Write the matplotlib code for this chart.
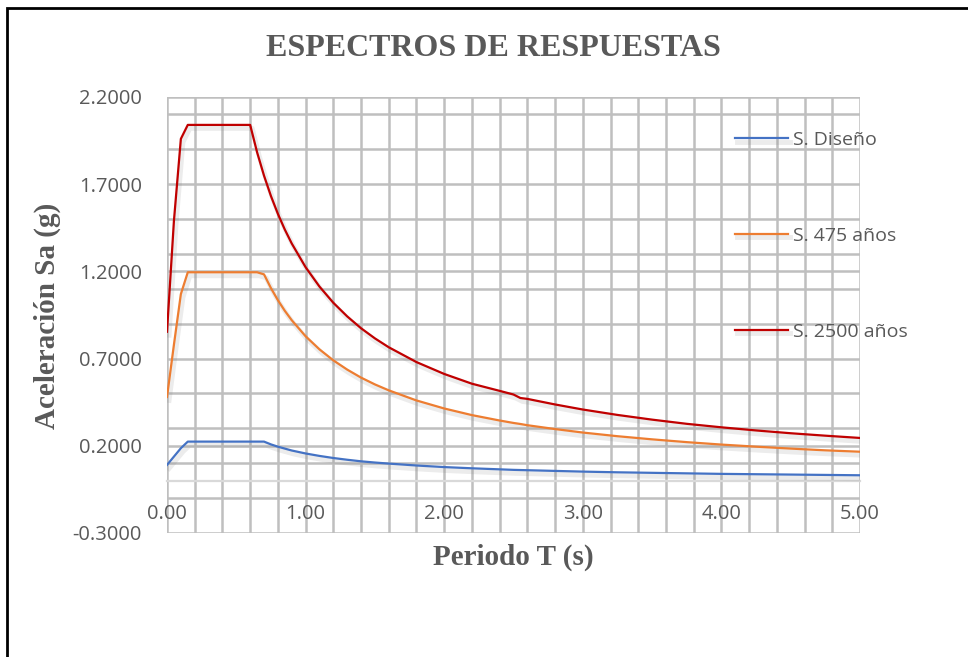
import numpy as np
import matplotlib
matplotlib.use("Agg")
import matplotlib.pyplot as plt
import matplotlib.patheffects as pe
from matplotlib.ticker import FixedLocator, FormatStrFormatter
from matplotlib.patches import Rectangle

# periods (s)
periodo = [0.00, 0.05, 0.10, 0.15, 0.20, 0.30, 0.40, 0.50, 0.60, 0.65,
           0.70, 0.75, 0.80, 0.85, 0.90, 1.00, 1.10, 1.20, 1.30, 1.40,
           1.50, 1.60, 1.80, 2.00, 2.20, 2.40, 2.50, 2.55, 2.60, 2.80,
           3.00, 3.25, 3.50, 3.75, 4.00, 4.25, 4.50, 4.75, 5.00]

# spectral acceleration Sa (g)
sa_diseno = [0.090, 0.138, 0.186, 0.224, 0.224, 0.224, 0.224, 0.224, 0.224, 0.224,
             0.224, 0.208, 0.195, 0.184, 0.173, 0.156, 0.142, 0.130, 0.120, 0.111,
             0.104, 0.098, 0.087, 0.078, 0.071, 0.065, 0.062, 0.061, 0.060, 0.056,
             0.052, 0.048, 0.045, 0.042, 0.039, 0.037, 0.035, 0.033, 0.031]

sa_475 = [0.480, 0.780, 1.070, 1.195, 1.195, 1.195, 1.195, 1.195, 1.195, 1.195,
          1.183, 1.104, 1.035, 0.974, 0.920, 0.828, 0.753, 0.690, 0.637, 0.591,
          0.552, 0.518, 0.460, 0.414, 0.376, 0.345, 0.331, 0.325, 0.318, 0.296,
          0.276, 0.255, 0.237, 0.221, 0.207, 0.195, 0.184, 0.174, 0.166]

sa_2500 = [0.854, 1.490, 1.960, 2.040, 2.040, 2.040, 2.040, 2.040, 2.040, 1.883,
           1.749, 1.632, 1.530, 1.440, 1.360, 1.224, 1.113, 1.020, 0.942, 0.874,
           0.816, 0.765, 0.680, 0.612, 0.556, 0.515, 0.494, 0.474, 0.469, 0.437,
           0.408, 0.377, 0.350, 0.326, 0.306, 0.288, 0.272, 0.258, 0.245]

series = [("S. Diseño", sa_diseno, "#4472C4"),
          ("S. 475 años", sa_475, "#ED7D31"),
          ("S. 2500 años", sa_2500, "#C00000")]

txt = "#595959"
grid_col = "#BFBFBF"

fig = plt.figure(figsize=(9.68, 6.57), dpi=100)
ax = fig.add_axes([167/968, 1-533/657, (860-167)/968, (533-97)/657])

shadow = [pe.SimpleLineShadow(offset=(1.5, -2.5), shadow_color="gray", alpha=0.15, linewidth=3.5),
          pe.Normal()]
for name, vals, col in series:
    ax.plot(periodo, vals, color=col, lw=1.6, label=name, path_effects=shadow, zorder=3)

ax.set_xlim(0, 5)
ax.set_ylim(-0.3, 2.2)

ax.xaxis.set_major_locator(FixedLocator(np.arange(0, 5.01, 1.0)))
ax.xaxis.set_minor_locator(FixedLocator(np.arange(0, 5.01, 0.2)))
ax.yaxis.set_major_locator(FixedLocator(np.arange(-0.3, 2.21, 0.5)))
ax.yaxis.set_minor_locator(FixedLocator(np.arange(-0.3, 2.21, 0.2)))
ax.xaxis.set_major_formatter(FormatStrFormatter("%.2f"))
ax.yaxis.set_major_formatter(FormatStrFormatter("%.4f"))

ax.grid(True, which="both", color=grid_col, lw=1.8)
ax.set_axisbelow(True)

for s in ["top", "right", "left"]:
    ax.spines[s].set_visible(False)
ax.spines["bottom"].set_position(("data", 0))
ax.spines["bottom"].set_color("#D9D9D9")
ax.spines["bottom"].set_linewidth(1.6)

ax.tick_params(which="both", length=0)
ax.tick_params(axis="x", pad=17, labelsize=14.5, labelcolor=txt)
ax.tick_params(axis="y", pad=18, labelsize=14.5, labelcolor=txt)
for lab in ax.get_xticklabels() + ax.get_yticklabels():
    lab.set_fontfamily("Open Sans")

fig.text(493/968, 1-48/657, "ESPECTROS DE RESPUESTAS", ha="center", va="center",
         fontsize=23, fontweight="bold", family="Liberation Serif", color=txt)
fig.text(513/968, 1-557/657, "Periodo T (s)", ha="center", va="center",
         fontsize=21, fontweight="bold", family="Liberation Serif", color=txt)
fig.text(47/968, 1-316/657, "Aceleración Sa (g)", ha="center", va="center", rotation=90,
         fontsize=21, fontweight="bold", family="Liberation Serif", color=txt)

leg = ax.legend(loc="upper left", bbox_to_anchor=(735/968, 1-131/657),
                bbox_transform=fig.transFigure, frameon=False, borderpad=0,
                borderaxespad=0, handlelength=2.7, handletextpad=0.3,
                labelspacing=4.0, prop={"family": "Open Sans", "size": 14})
for t in leg.get_texts():
    t.set_color(txt)

fig.add_artist(Rectangle((6.5/968, -0.1), 1.2, 1.1 - 8/657, transform=fig.transFigure,
                         fill=False, edgecolor="black", lw=2, clip_on=False))

fig.savefig("out.png", dpi=100)
